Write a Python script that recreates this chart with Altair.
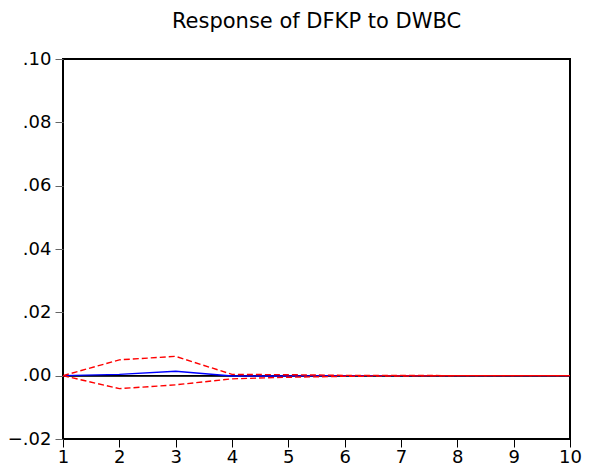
import altair as alt
import pandas as pd

steps = [1, 2, 3, 4, 5, 6, 7, 8, 9, 10]
response = [0.0, 0.0004, 0.0014, -0.0001, -0.0001, 0.0, 0.0, 0.0, 0.0, 0.0]
upper = [0.0, 0.0050, 0.0061, 0.0004, 0.0003, 0.0001, 0.0001, 0.0, 0.0, 0.0]
lower = [0.0, -0.0041, -0.0029, -0.0010, -0.0005, -0.0002, -0.0001, 0.0, 0.0, 0.0]
y_ticks = [-0.02, 0.0, 0.02, 0.04, 0.06, 0.08, 0.10]

df = pd.DataFrame({"step": steps, "response": response, "upper": upper, "lower": lower})

FONT = "DejaVu Sans"

x = alt.X("step:Q", scale=alt.Scale(domain=[1, 10], nice=False),
          axis=alt.Axis(values=steps, format="d", title=None, grid=False,
                        domain=False, tickColor="black", tickSize=8,
                        labelFontSize=18, labelFont=FONT, labelColor="black",
                        labelPadding=1, labelFlush=False))
yscale = alt.Scale(domain=[-0.02, 0.10], nice=False, zero=False)
yaxis = alt.Axis(values=y_ticks, title=None,
                 grid=False, domain=False, tickColor="#666666", tickSize=8,
                 labelFontSize=18, labelFont=FONT, labelColor="black",
                 labelPadding=4,
                 labelExpr="replace(format(datum.value, '.2f'), '0.', '.')")

base = alt.Chart(df)

zero = base.mark_rule(color="black", strokeWidth=1).encode(
    y=alt.datum(0, scale=yscale, axis=yaxis))

resp = base.mark_line(color="#0000ff", strokeWidth=1.3).encode(
    x=x, y=alt.Y("response:Q", scale=yscale, axis=yaxis))
up = base.mark_line(color="#ff0000", strokeWidth=1.4, strokeDash=[6, 3]).encode(
    x=x, y=alt.Y("upper:Q", scale=yscale, axis=yaxis))
lo = base.mark_line(color="#ff0000", strokeWidth=1.4, strokeDash=[6, 3]).encode(
    x=x, y=alt.Y("lower:Q", scale=yscale, axis=yaxis))

chart = alt.layer(zero, resp, up, lo).properties(
    width=507, height=380,
    autosize=alt.AutoSizeParams(type="none"),
    padding={"left": 55, "top": 51, "right": 20, "bottom": 30},
    background="white",
    title=alt.TitleParams("Response of DFKP to DWBC", font=FONT, fontSize=21,
                          fontWeight="normal", color="black", offset=18),
).configure_view(stroke="black", strokeWidth=2)

chart.save("out.html", embed_options={"renderer": "svg", "actions": False})
